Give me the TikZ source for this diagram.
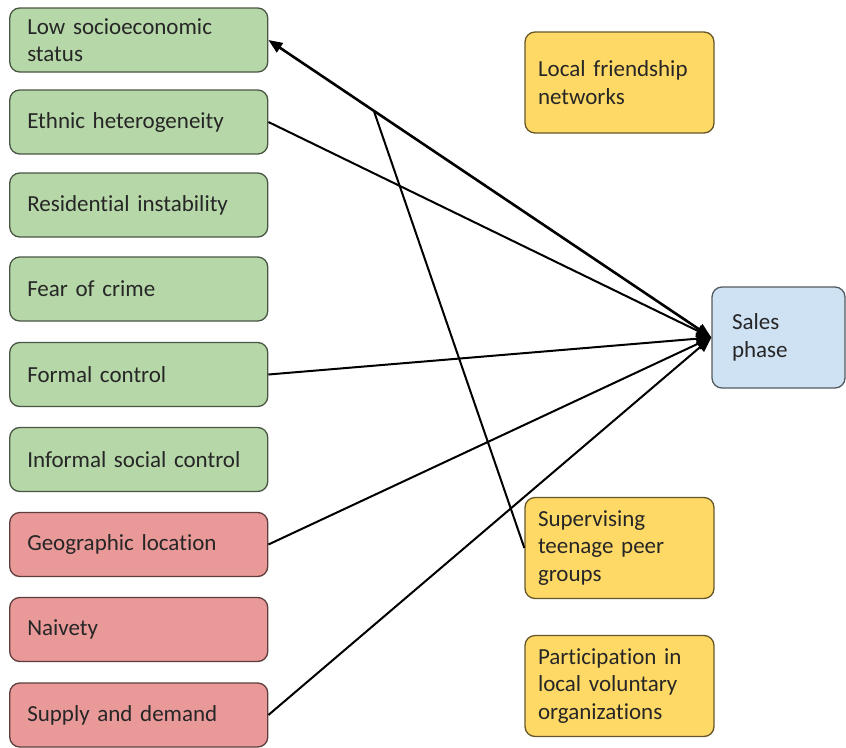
\documentclass[tikz,border=0pt]{standalone}
\usepackage{fontspec}
\setmainfont{Carlito}[Ligatures=NoCommon, WordSpace=0.85]
\usetikzlibrary{arrows.meta,calc}

\definecolor{boxgreen}{HTML}{B6D7A8}
\definecolor{boxred}{HTML}{EA9999}
\definecolor{boxyellow}{HTML}{FFD966}
\definecolor{boxblue}{HTML}{CFE2F3}
\definecolor{txt}{HTML}{262626}

\begin{document}
\begin{tikzpicture}[x=1pt,y=-1pt,
  box/.style={draw=#1!40!black, fill=#1, rounded corners=10pt, line width=1.3pt,
    font=\fontsize{23}{27.5}\selectfont, text=txt, align=left, inner ysep=0pt},
  leftbox/.style={box=#1, text width=223pt, inner xsep=17.5pt, minimum height=64pt},
  rightbox/.style={box=boxyellow, text width=163pt, inner xsep=13pt, minimum height=101pt},
  salesbox/.style={box=boxblue, text width=93pt, inner xsep=20pt, minimum height=101pt},
  conn/.style={draw=black, line width=2pt},
  tip/.style={-{Triangle[length=15pt,width=12pt]}}
]
\useasboundingbox (0,0) rectangle (846,747);

% neighbourhood factors (left column)
\node[leftbox=boxgreen] (lses) at (138.75,40)    {Low socioeconomic\\status};
\node[leftbox=boxgreen] (eth)  at (138.75,122)   {Ethnic heterogeneity};
\node[leftbox=boxgreen] (res)  at (138.75,205)   {Residential instability};
\node[leftbox=boxgreen] (fear) at (138.75,289)   {Fear of crime};
\node[leftbox=boxgreen] (form) at (138.75,374.5) {Formal control};
\node[leftbox=boxgreen] (inf)  at (138.75,459.5) {Informal social control};
\node[leftbox=boxred]   (geo)  at (138.75,544.5) {Geographic location};
\node[leftbox=boxred]   (naiv) at (138.75,629.5) {Naivety};
\node[leftbox=boxred]   (supd) at (138.75,715)   {Supply and demand};

% social ties (right column)
\node[rightbox] (friend) at (619.5,82.5) {Local friendship\\networks};
\node[rightbox] (peer)   at (619.5,548)  {Supervising\\teenage peer\\groups};
\node[rightbox] (vol)    at (619.5,686)  {Participation in\\local voluntary\\organizations};

% outcome
\node[salesbox] (sales) at (778.5,337.5) {Sales\\phase};

% connectors
\draw[conn, line width=2.6pt, {Triangle[length=14pt,width=11pt]}-{Triangle[length=15pt,width=12pt]}]
  (lses.east) -- (sales.west);
\draw[conn, tip] (eth.east)  -- (sales.west);
\draw[conn, tip] (form.east) -- (sales.west);
\draw[conn, tip] (geo.east)  -- (sales.west);
\draw[conn, tip] (supd.east) -- (sales.west);

\coordinate (j) at ($(lses.east)!0.238!(sales.west)$);
\draw[conn] (j) -- (peer.west);
\end{tikzpicture}
\end{document}
